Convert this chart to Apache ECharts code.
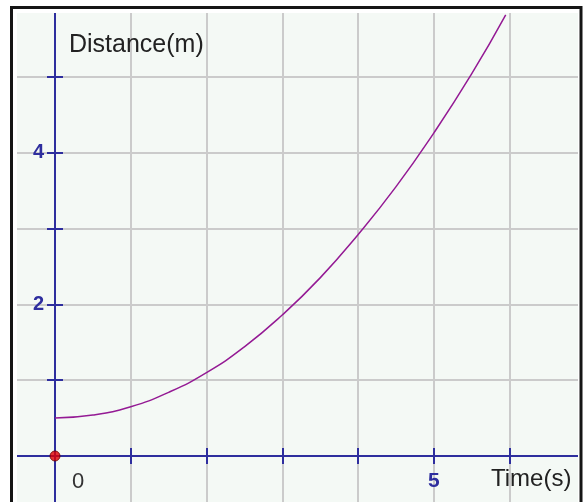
<!DOCTYPE html>
<html>
<head>
<meta charset="utf-8">
<script src="https://cdn.jsdelivr.net/npm/echarts@6/dist/echarts.min.js"></script>
<style>html,body{margin:0;padding:0;background:#fff;overflow:hidden}#c{width:584px;height:502px}</style>
</head>
<body>
<div id="c"></div>
<script>
// Data
const timeValues = [0, 0.5, 1, 1.5, 2, 2.5, 3, 3.5, 4, 4.5, 5, 5.5, 5.95];
const distanceValues = [0.50, 0.54, 0.65, 0.84, 1.10, 1.44, 1.86, 2.35, 2.92, 3.55, 4.26, 5.04, 5.82];
const originPoint = [0, 0];
const xTickLabels = { 0: '0', 5: '5' };
const yTickLabels = { 2: '2', 4: '4' };
const xTitle = 'Time(s)';
const yTitle = 'Distance(m)';

const AXIS = '#2e2e9e';
const GRIDC = '#cbcbcb';
const chart = echarts.init(document.getElementById('c'), null, { renderer: 'canvas' });

const curve = timeValues.map((t, i) => [t, distanceValues[i]]);

// grid geometry (pixels): one unit = ~75.75 px horizontally, ~75.8 px vertically
const gridBox = { left: -20.75, right: -1.25, top: 1.2, bottom: -29.8 };
const X_MIN = -1, X_MAX = 7, Y_MIN = -1, Y_MAX = 6;
const gridW = 584 - gridBox.left - gridBox.right;
const gridH = 502 - gridBox.top - gridBox.bottom;
const xOff = -(0 - Y_MIN) * gridH / (Y_MAX - Y_MIN); // move x axis up to y = 0
const yOff = -(0 - X_MIN) * gridW / (X_MAX - X_MIN); // move y axis right to x = 0

const baseX = {
  type: 'value', min: X_MIN, max: X_MAX, interval: 1, position: 'bottom', offset: xOff,
  axisLine: { show: true, onZero: false, lineStyle: { color: AXIS, width: 2 } },
  splitLine: { show: false },
  axisLabel: { show: false }
};
const baseY = {
  type: 'value', min: Y_MIN, max: Y_MAX, interval: 1, position: 'left', offset: yOff,
  axisLine: { show: true, onZero: false, lineStyle: { color: AXIS, width: 2 } },
  splitLine: { show: false },
  axisLabel: { show: false }
};

chart.setOption({
  animation: false,
  grid: Object.assign({}, gridBox, {
    outerBoundsMode: 'none', containLabel: false,
    show: true, backgroundColor: '#f4f9f5', borderWidth: 0
  }),
  xAxis: [
    Object.assign({}, baseX, {
      splitLine: { show: true, lineStyle: { color: GRIDC, width: 2 } },
      axisTick: { show: true, inside: false, length: 8, lineStyle: { color: AXIS, width: 2 } },
      axisLabel: {
        show: true, margin: 15, fontFamily: 'Liberation Sans', fontSize: 21, fontWeight: 'bold', color: AXIS,
        formatter: v => v === 0 ? '{z|0}' : (xTickLabels[v] || ''),
        rich: { z: { color: '#333', fontFamily: 'Liberation Sans', fontSize: 22, fontWeight: 'normal', padding: [0, 0, 0, 46] } }
      }
    }),
    Object.assign({}, baseX, {
      axisTick: { show: true, inside: true, length: 8, lineStyle: { color: AXIS, width: 2 } }
    })
  ],
  yAxis: [
    Object.assign({}, baseY, {
      splitLine: { show: true, lineStyle: { color: GRIDC, width: 2 } },
      axisTick: { show: true, inside: false, length: 8, lineStyle: { color: AXIS, width: 2 } },
      axisLabel: {
        show: true, margin: 11, fontFamily: 'Liberation Sans', fontSize: 20, fontWeight: 'bold', color: AXIS,
        formatter: v => yTickLabels[v] || ''
      }
    }),
    Object.assign({}, baseY, {
      axisTick: { show: true, inside: true, length: 8, lineStyle: { color: AXIS, width: 2 } }
    })
  ],
  series: [
    {
      type: 'line', xAxisIndex: 0, yAxisIndex: 0, data: curve, smooth: true,
      showSymbol: false, lineStyle: { color: '#941a94', width: 1.5 }, z: 5
    },
    {
      type: 'scatter', xAxisIndex: 0, yAxisIndex: 0, data: [originPoint],
      symbolSize: 10, itemStyle: { color: '#e00000', borderColor: '#600', borderWidth: 1 }, z: 6
    }
  ],
  graphic: [
    { type: 'rect', shape: { x: 0, y: 0, width: 17, height: 502 }, style: { fill: '#fff' }, z: 100 },
    { type: 'rect', shape: { x: 0, y: 0, width: 584, height: 13 }, style: { fill: '#fff' }, z: 100 },
    { type: 'rect', shape: { x: 578, y: 0, width: 6, height: 502 }, style: { fill: '#fff' }, z: 100 },
    { type: 'polyline', shape: { points: [[11.5, 503], [11.5, 7.5], [581, 7.5], [581, 503]] },
      style: { stroke: '#151515', lineWidth: 3, fill: null }, z: 101 },
    { type: 'text', x: 69, y: 45, z: 102,
      style: { text: yTitle, fontFamily: 'Liberation Sans', fontSize: 25, fill: '#222', verticalAlign: 'middle' } },
    { type: 'text', x: 491, y: 479, z: 102,
      style: { text: xTitle, fontFamily: 'Liberation Sans', fontSize: 24, fill: '#222', verticalAlign: 'middle' } }
  ]
});
</script>
</body>
</html>
